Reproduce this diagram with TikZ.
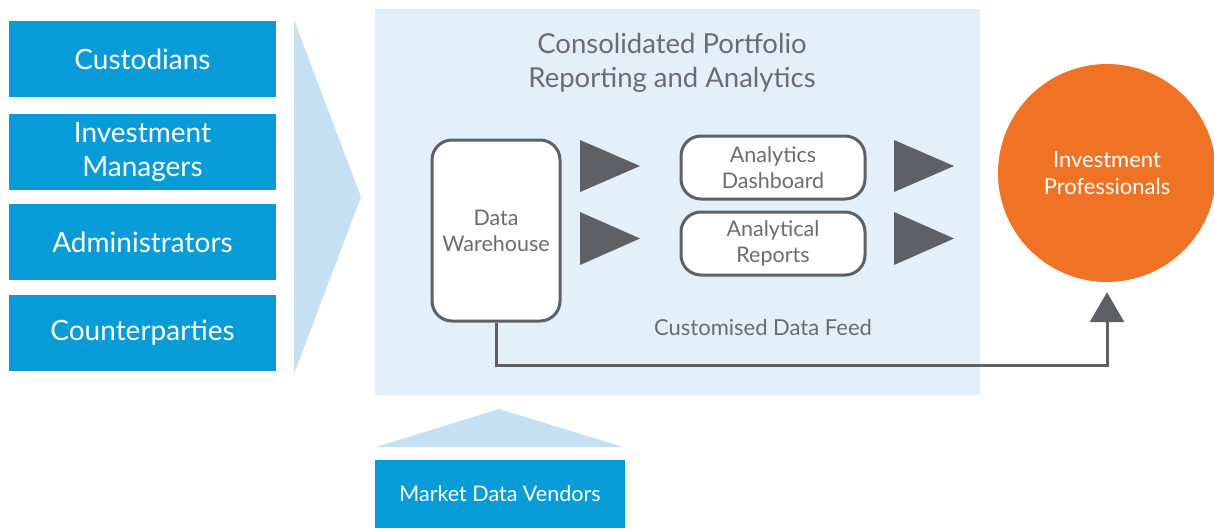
\documentclass[tikz,border=0pt]{standalone}
\usepackage{fontspec}
\setmainfont{Lato}
\usetikzlibrary{arrows.meta}
\definecolor{boxblue}{HTML}{079BD8}
\definecolor{chevblue}{HTML}{C5DFF3}
\definecolor{panelblue}{HTML}{E3EFF9}
\definecolor{darkgray}{HTML}{5F5F66}
\definecolor{txtgray}{HTML}{6B6B73}
\definecolor{orange}{HTML}{F07325}
\tikzset{
  srcbox/.style={fill=boxblue, text=white, minimum width=267pt, minimum height=76pt, inner sep=0pt, align=center, font=\fontsize{28}{34}\selectfont},
  procbox/.style={draw=darkgray, line width=3pt, fill=white, rounded corners=20pt, text=txtgray, align=center, inner sep=0pt, font=\fontsize{21.5}{26}\selectfont},
  tri/.style={fill=darkgray},
  conn/.style={draw=darkgray, line width=3pt, -{Triangle[length=30pt,width=34pt]}},
}
\begin{document}
\begin{tikzpicture}[x=1pt,y=-1pt]
\useasboundingbox (0,0) rectangle (1214,528);
% chevron
\fill[chevblue] (294,20) -- (361,197) -- (294,374) -- cycle;
% panel
\fill[panelblue] (375,9) rectangle (980,395);
% sources
\node[srcbox] (cust) at (142.5,59) {Custodians};
\node[srcbox] (invm) at (142.5,152) {Investment\\Managers};
\node[srcbox] (admin) at (142.5,242) {Administrators};
\node[srcbox] (cpty) at (142.5,333) {Counterparties};
% title
\node[text=txtgray, align=center, font=\fontsize{27.5}{34}\selectfont] (title) at (672,63) {Consolidated Portfolio\\Reporting and Analytics};
% process boxes
\node[procbox, minimum width=128pt, minimum height=181pt] (dw) at (496,230.5) {Data\\Warehouse};
\node[procbox, minimum width=184pt, minimum height=63pt] (ad) at (773,167.5) {Analytics\\Dashboard};
\node[procbox, minimum width=184pt, minimum height=63pt] (ar) at (773,243.5) {Analytical\\Reports};
% triangles
\fill[tri] (580,140) -- (640,166) -- (580,192) -- cycle;
\fill[tri] (580,212) -- (640,238.5) -- (580,265) -- cycle;
\fill[tri] (894,140) -- (954,166) -- (894,192) -- cycle;
\fill[tri] (894,212) -- (954,238.5) -- (894,265) -- cycle;
% investment professionals
\node[circle, fill=orange, minimum size=218pt, inner sep=0pt, text=white, align=center, font=\fontsize{22}{27}\selectfont] (ip) at (1107,173) {Investment\\Professionals};
% feed label
\node[text=txtgray, font=\fontsize{22}{26}\selectfont] (feed) at (763,327) {Customised Data Feed};
% feed connector
\draw[conn] (dw.south) -- ++(0,43) -| ([yshift=-10pt]ip.south);
% market data vendors
\fill[chevblue] (376,447) -- (499,409) -- (623,447) -- cycle;
\node[fill=boxblue, text=white, minimum width=250pt, minimum height=68pt, inner sep=0pt, font=\fontsize{21.5}{26}\selectfont] (mdv) at (500,494) {Market Data Vendors};
\end{tikzpicture}
\end{document}
